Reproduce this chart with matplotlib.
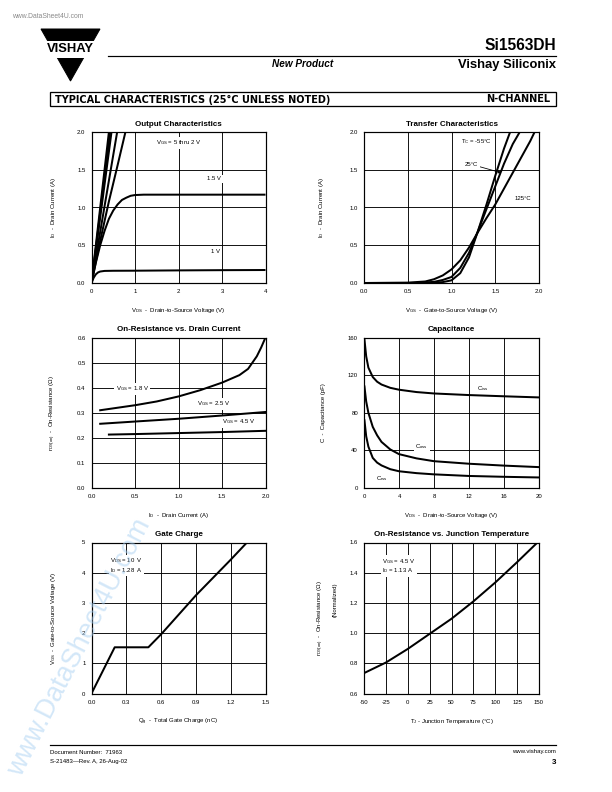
import matplotlib
matplotlib.use("Agg")
import matplotlib.pyplot as plt
from matplotlib import font_manager
from matplotlib.patches import Polygon, Rectangle
import numpy as np

def pick(*names):
    avail = {f.name for f in font_manager.fontManager.ttflist}
    for n in names:
        if n in avail:
            return n
    return "DejaVu Sans"

SANS = pick("Liberation Sans", "Arial", "DejaVu Sans")
NARROW = pick("Liberation Sans Narrow", "Liberation Sans", "DejaVu Sans")

plt.rcParams["font.family"] = [SANS, "DejaVu Sans"]
plt.rcParams["mathtext.fontset"] = "custom"
plt.rcParams["mathtext.rm"] = SANS
plt.rcParams["mathtext.it"] = SANS
plt.rcParams["mathtext.bf"] = SANS + ":bold"

# ---------------- data ----------------
# Output characteristics
out_vds_5v = [0.0, 0.40]
out_id_5v = [0.0, 2.0]
out_vds_4v = [0.0, 0.43]
out_id_4v = [0.0, 2.0]
out_vds_3v = [0.0, 0.46]
out_id_3v = [0.0, 2.0]
out_vds_25v = [0.0, 0.59]
out_id_25v = [0.0, 2.0]
out_vds_2v = [0.0, 0.2, 0.4, 0.6, 0.78]
out_id_2v = [0.0, 0.56, 1.08, 1.56, 2.0]
out_vds_15v = [0.0, 0.1, 0.2, 0.3, 0.4, 0.5, 0.6, 0.7, 0.8, 0.9, 1.0, 1.2, 2.0, 3.0, 4.0]
out_id_15v = [0.0, 0.27, 0.50, 0.69, 0.85, 0.96, 1.04, 1.10, 1.13, 1.155, 1.165, 1.17, 1.17, 1.17, 1.17]
out_vds_1v = [0.0, 0.05, 0.1, 0.15, 0.2, 0.3, 0.5, 1.0, 2.0, 3.0, 4.0]
out_id_1v = [0.0, 0.07, 0.115, 0.14, 0.152, 0.16, 0.162, 0.163, 0.167, 0.17, 0.172]

# Transfer characteristics
tr_vgs_m55 = [0.0, 0.7, 0.8, 0.9, 1.0, 1.1, 1.2, 1.3, 1.4, 1.5, 1.6, 1.67]
tr_id_m55 = [0.0, 0.0, 0.005, 0.012, 0.035, 0.13, 0.34, 0.68, 1.04, 1.42, 1.78, 2.0]
tr_vgs_25 = [0.0, 0.6, 0.8, 0.9, 1.0, 1.1, 1.2, 1.3, 1.4, 1.5, 1.6, 1.7, 1.78]
tr_id_25 = [0.0, 0.0, 0.015, 0.04, 0.08, 0.2, 0.4, 0.68, 0.98, 1.28, 1.58, 1.84, 2.0]
tr_vgs_125 = [0.0, 0.5, 0.7, 0.8, 0.9, 1.0, 1.1, 1.2, 1.3, 1.4, 1.5, 1.6, 1.7, 1.8, 1.9, 1.95]
tr_id_125 = [0.0, 0.005, 0.02, 0.05, 0.1, 0.18, 0.3, 0.47, 0.67, 0.86, 1.04, 1.25, 1.46, 1.67, 1.88, 2.0]

# On-resistance vs drain current
rd_id_18 = [0.1, 0.3, 0.5, 0.75, 1.0, 1.25, 1.5, 1.7, 1.8, 1.9, 1.95, 2.0]
rd_r_18 = [0.31, 0.32, 0.33, 0.345, 0.365, 0.39, 0.42, 0.45, 0.475, 0.525, 0.56, 0.60]
rd_id_25 = [0.1, 0.5, 1.0, 1.5, 2.0]
rd_r_25 = [0.256, 0.265, 0.276, 0.289, 0.303]
rd_id_45 = [0.2, 0.5, 1.0, 1.5, 2.0]
rd_r_45 = [0.213, 0.215, 0.219, 0.223, 0.228]

# Capacitance
cap_vds = [0.05, 0.25, 0.5, 1.0, 1.5, 2.0, 3.0, 4.0, 6.0, 8.0, 12.0, 16.0, 20.0]
cap_ciss = [158, 140, 128, 118, 113, 110, 106.5, 104.5, 102, 100.5, 98.8, 97.5, 96.3]
cap_coss = [108, 92, 80, 65, 56, 49, 41, 36, 31.5, 28.5, 25.8, 23.8, 22.2]
cap_crss = [72, 55, 44, 32, 27, 24, 20, 17.8, 15.8, 14.5, 12.8, 11.9, 11.2]

# Gate charge
gc_qg = [0.0, 0.20, 0.49, 0.60, 0.90, 1.20, 1.34]
gc_vgs = [0.0, 1.53, 1.53, 1.96, 3.25, 4.43, 5.0]

# On-resistance vs junction temperature
tj_temp = [-50, -25, 0, 25, 50, 75, 100, 125, 150]
tj_rnorm = [0.735, 0.805, 0.895, 0.995, 1.095, 1.21, 1.335, 1.47, 1.61]

# ---------------- figure ----------------
W, H = 612, 792
fig = plt.figure(figsize=(W / 72, H / 72), dpi=72)
fig.patch.set_facecolor("white")

def px_axes(x0, y0, x1, y1):
    return fig.add_axes([x0 / W, 1 - y1 / H, (x1 - x0) / W, (y1 - y0) / H])

def ftext(x, y, s, **kw):
    return fig.text(x / W, 1 - y / H, s, **kw)

LW = 2.0
TICK_FS = 6
LAB_FS = 6

def style(ax, xlim, ylim, xticks, yticks, xfmt, yfmt, title, xlabel, ylabel):
    ax.set_xlim(*xlim)
    ax.set_ylim(*ylim)
    ax.set_xticks(xticks)
    ax.set_yticks(yticks)
    ax.set_xticklabels([xfmt.format(v) for v in xticks], fontsize=TICK_FS)
    ax.set_yticklabels([yfmt.format(v) for v in yticks], fontsize=TICK_FS)
    ax.tick_params(length=0, pad=6)
    ax.grid(True, color="black", lw=0.9)
    ax.set_axisbelow(True)
    for s in ax.spines.values():
        s.set_linewidth(1.2)
    ax.set_title(title, fontsize=8, fontweight="bold", family=NARROW, pad=6.5)
    ax.set_xlabel(xlabel, fontsize=LAB_FS)
    ax.set_ylabel(ylabel, fontsize=LAB_FS)
    ax.xaxis.set_label_coords(0.5, -0.155)
    ax.yaxis.set_label_coords(-0.195, 0.5)

BOX = dict(facecolor="white", edgecolor="none", pad=1.5)

L0, L1 = 91.5, 265.5
R0, R1 = 364, 539
ROWS = [(132, 283), (337.5, 488), (542.5, 693.5)]

# 1. Output characteristics
ax = px_axes(L0, ROWS[0][0], L1, ROWS[0][1])
style(ax, (0, 4), (0, 2), [0, 1, 2, 3, 4], [0, 0.5, 1.0, 1.5, 2.0], "{:g}", "{:.1f}",
      "Output Characteristics",
      r"V$_{\mathregular{DS}}$  -  Drain-to-Source Voltage (V)",
      r"I$_{\mathregular{D}}$  -  Drain Current (A)")
for xs, ys in [(out_vds_5v, out_id_5v), (out_vds_4v, out_id_4v), (out_vds_3v, out_id_3v),
               (out_vds_25v, out_id_25v), (out_vds_2v, out_id_2v),
               (out_vds_15v, out_id_15v), (out_vds_1v, out_id_1v)]:
    ax.plot(xs, ys, color="black", lw=LW, zorder=4, solid_capstyle="butt")
ax.text(2.0, 1.86, r"V$_{\mathregular{GS}}$ = 5 thru 2 V", fontsize=6, ha="center", va="center", bbox=BOX, zorder=3)
ax.text(2.82, 1.38, "1.5 V", fontsize=6, ha="center", va="center", bbox=BOX, zorder=3)
ax.text(2.86, 0.42, "1 V", fontsize=6, ha="center", va="center", bbox=BOX, zorder=3)

# 2. Transfer characteristics
ax = px_axes(R0, ROWS[0][0], R1, ROWS[0][1])
style(ax, (0, 2), (0, 2), [0, 0.5, 1.0, 1.5, 2.0], [0, 0.5, 1.0, 1.5, 2.0], "{:.1f}", "{:.1f}",
      "Transfer Characteristics",
      r"V$_{\mathregular{GS}}$  -  Gate-to-Source Voltage (V)",
      r"I$_{\mathregular{D}}$  -  Drain Current (A)")
ax.yaxis.set_label_coords(-0.215, 0.5)
for xs, ys in [(tr_vgs_m55, tr_id_m55), (tr_vgs_25, tr_id_25), (tr_vgs_125, tr_id_125)]:
    ax.plot(xs, ys, color="black", lw=LW, zorder=4)
ax.text(1.28, 1.87, r"T$_{\mathregular{C}}$ = -55$\degree$C", fontsize=6, ha="center", va="center", bbox=BOX, zorder=3)
ax.annotate("25°C", xy=(1.57, 1.46), xytext=(1.23, 1.57), fontsize=6, ha="center", va="center",
            bbox=BOX, zorder=3,
            arrowprops=dict(arrowstyle="-|>", color="black", lw=0.8, mutation_scale=6, shrinkA=0, shrinkB=0))
ax.text(1.81, 1.12, "125°C", fontsize=6, ha="center", va="center", bbox=BOX, zorder=3)

# 3. On-resistance vs drain current
ax = px_axes(L0, ROWS[1][0], L1, ROWS[1][1])
style(ax, (0, 2), (0, 0.6), [0, 0.5, 1.0, 1.5, 2.0], [0, 0.1, 0.2, 0.3, 0.4, 0.5, 0.6], "{:.1f}", "{:.1f}",
      "On-Resistance vs. Drain Current",
      r"I$_{\mathregular{D}}$  -  Drain Current (A)",
      r"r$_{\mathregular{DS(on)}}$  -  On-Resistance ($\Omega$)")
for xs, ys in [(rd_id_18, rd_r_18), (rd_id_25, rd_r_25), (rd_id_45, rd_r_45)]:
    ax.plot(xs, ys, color="black", lw=LW, zorder=4)
ax.text(0.47, 0.395, r"V$_{\mathregular{GS}}$ = 1.8 V", fontsize=6, ha="center", va="center", bbox=BOX, zorder=3)
ax.text(1.40, 0.335, r"V$_{\mathregular{GS}}$ = 2.5 V", fontsize=6, ha="center", va="center", bbox=BOX, zorder=3)
ax.text(1.69, 0.263, r"V$_{\mathregular{GS}}$ = 4.5 V", fontsize=6, ha="center", va="center", bbox=BOX, zorder=3)

# 4. Capacitance
ax = px_axes(R0, ROWS[1][0], R1, ROWS[1][1])
style(ax, (0, 20), (0, 160), [0, 4, 8, 12, 16, 20], [0, 40, 80, 120, 160], "{:g}", "{:g}",
      "Capacitance",
      r"V$_{\mathregular{DS}}$  -  Drain-to-Source Voltage (V)",
      r"C  -  Capacitance (pF)")
ax.yaxis.set_label_coords(-0.215, 0.5)
for ys in [cap_ciss, cap_coss, cap_crss]:
    ax.plot(cap_vds, ys, color="black", lw=LW, zorder=4)
ax.text(13.6, 105.5, r"C$_{\mathregular{iss}}$", fontsize=6, ha="center", va="center", zorder=3)
ax.text(6.6, 44, r"C$_{\mathregular{oss}}$", fontsize=6, ha="center", va="center", bbox=BOX, zorder=3)
ax.text(2.0, 10.5, r"C$_{\mathregular{rss}}$", fontsize=6, ha="center", va="center", zorder=3)

# 5. Gate charge
ax = px_axes(L0, ROWS[2][0], L1, ROWS[2][1])
style(ax, (0, 1.5), (0, 5), [0, 0.3, 0.6, 0.9, 1.2, 1.5], [0, 1, 2, 3, 4, 5], "{:.1f}", "{:g}",
      "Gate Charge",
      r"Q$_{\mathregular{g}}$  -  Total Gate Charge (nC)",
      r"V$_{\mathregular{GS}}$  -  Gate-to-Source Voltage (V)")
ax.plot(gc_qg, gc_vgs, color="black", lw=LW, zorder=4)
ax.text(0.16, 4.24, "V$_{\\mathregular{DS}}$ = 10  V\nI$_{\\mathregular{D}}$ = 1.28  A", fontsize=6,
        ha="left", va="center", linespacing=1.1, bbox=BOX, zorder=3)

# 6. On-resistance vs junction temperature
ax = px_axes(R0, ROWS[2][0], R1, ROWS[2][1])
style(ax, (-50, 150), (0.6, 1.6), [-50, -25, 0, 25, 50, 75, 100, 125, 150],
      [0.6, 0.8, 1.0, 1.2, 1.4, 1.6], "{:g}", "{:.1f}",
      "On-Resistance vs. Junction Temperature",
      r"T$_{\mathregular{J}}$ - Junction Temperature ($\degree$C)",
      r"r$_{\mathregular{DS(on)}}$  -  On-Resistance ($\Omega$)")
ax.yaxis.set_label_coords(-0.215, 0.5)
ax.text(-0.165, 0.62, "(Normalized)", transform=ax.transAxes, rotation=90, fontsize=6,
        ha="center", va="center")
ax.plot(tj_temp, tj_rnorm, color="black", lw=LW, zorder=4)
ax.text(-29, 1.445, "V$_{\\mathregular{GS}}$ = 4.5 V\nI$_{\\mathregular{D}}$ = 1.13 A", fontsize=6,
        ha="left", va="center", linespacing=1.1, bbox=BOX, zorder=3)

# ---------------- page decorations ----------------
deco = fig.add_axes([0, 0, 1, 1], zorder=-1)
deco.set_xlim(0, W)
deco.set_ylim(H, 0)
deco.axis("off")

# logo
lx0, lx1, ly0, ly1 = 41, 100, 29, 81
tri = Polygon([[lx0, ly0], [lx1, ly0], [(lx0 + lx1) / 2, ly1]], closed=True, color="black")
deco.add_patch(tri)
deco.add_patch(Rectangle((lx0 - 8, 41), lx1 - lx0 + 16, 16, color="white"))
deco.text((lx0 + lx1) / 2, 49.5, "VISHAY", fontsize=13, fontweight="bold", family=SANS,
          ha="center", va="center")

ftext(12, 17, "www.DataSheet4U.com", fontsize=6.8, color="#8a8a8a", va="center")
deco.plot([108, 556], [56, 56], color="black", lw=1.2)
ftext(556, 45, "Si1563DH", fontsize=15.5, fontweight="bold", family=NARROW, ha="right", va="center")
ftext(556, 65, "Vishay Siliconix", fontsize=13, fontweight="bold", family=NARROW, ha="right", va="center")
ftext(303, 64, "New Product", fontsize=10, fontweight="bold", style="italic", family=NARROW,
      ha="center", va="center")

deco.add_patch(Rectangle((50, 92), 506, 14, facecolor="white", edgecolor="black", lw=1.3))
ftext(55, 99.5, "TYPICAL CHARACTERISTICS (25°C UNLESS NOTED)", fontsize=9.8, fontweight="bold",
      family="DejaVu Sans", va="center")
ftext(550, 99.5, "N-CHANNEL", fontsize=9.8, fontweight="bold", family="DejaVu Sans", ha="right", va="center")

# footer
deco.plot([50, 556], [745, 745], color="black", lw=1.2)
ftext(50, 752, "Document Number:  71963", fontsize=6, va="center")
ftext(50, 761, "S-21483\u2014Rev. A, 26-Aug-02", fontsize=6, va="center")
ftext(556, 752, "www.vishay.com", fontsize=6, ha="right", va="center")
ftext(556, 762, "3", fontsize=8, fontweight="bold", ha="right", va="center")

# watermark
ftext(80, 648, "www.DataSheet4U.com", fontsize=27, color="#a8d0f2", alpha=0.5,
      rotation=63, ha="center", va="center", zorder=100)

fig.savefig("out.png", dpi=72)
